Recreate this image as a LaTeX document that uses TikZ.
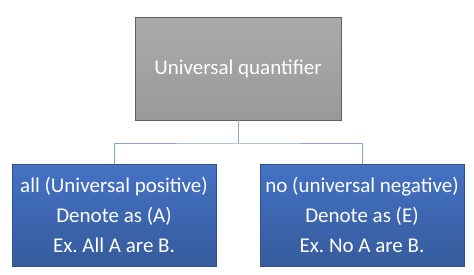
\documentclass[tikz,border=0pt]{standalone}
\usepackage{fontspec}
\setmainfont{Carlito}
\usepackage{xcolor}
\usetikzlibrary{positioning,calc}
\definecolor{boxblue}{HTML}{4472C4}
\definecolor{linkblue}{HTML}{8EA6CF}

\begin{document}
\frenchspacing
\begin{tikzpicture}[x=1pt,y=1pt,
  qbox/.style={rectangle,draw=gray!75!black,minimum width=206pt,minimum height=103pt,
    top color=gray!66,bottom color=gray!80,text=white,font=\fontsize{21}{30}\selectfont},
  kbox/.style={rectangle,draw=boxblue!70!black,minimum width=204pt,minimum height=102pt,
    top color=boxblue,bottom color=boxblue!80!black,text=white,align=center,
    font=\fontsize{21}{30}\selectfont},
  link/.style={draw=linkblue,line width=0.9pt}]
  \useasboundingbox (0,0) rectangle (474,274);
  \node[qbox](uq) at (238,205.5){Universal quantifier};
  \node[kbox](all) at (114,59){all (Universal positive)\\Denote as (A)\\Ex. All A are B.};
  \node[kbox](no) at (362,59){no (universal negative)\\Denote as (E)\\Ex. No A are B.};
  \coordinate (mid) at (238,131);
  \draw[link] (uq.south)--(mid);
  \draw[link] (all.north) |- (mid) -| (no.north);
\end{tikzpicture}
\end{document}
